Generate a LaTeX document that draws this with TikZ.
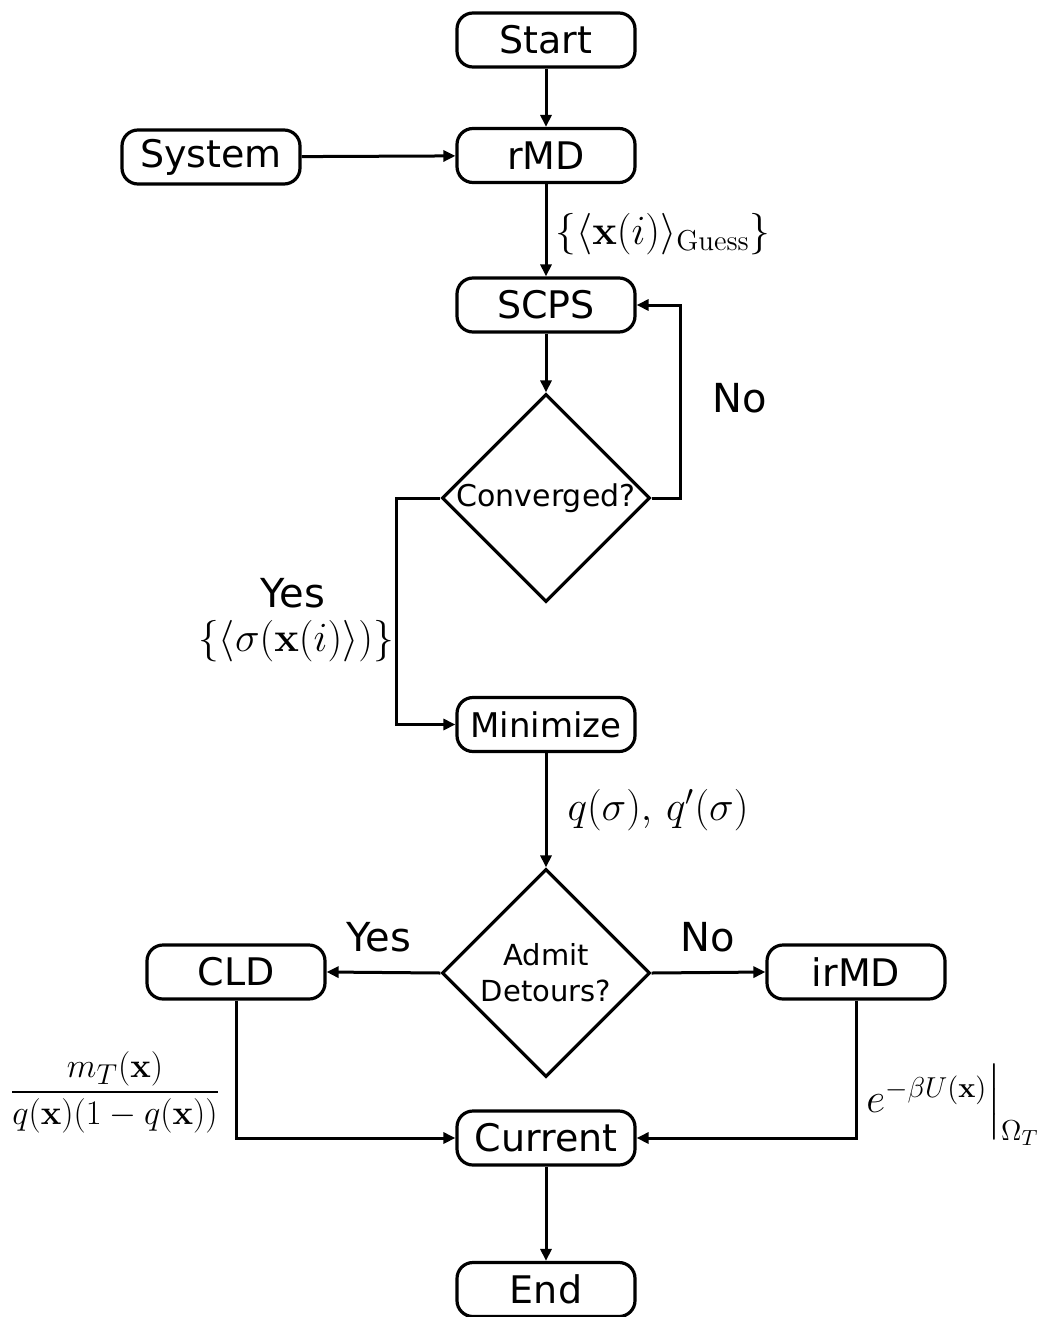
\documentclass[tikz,border=0pt]{standalone}
\usepackage{amsmath}
\usepackage[no-math]{fontspec}
\setmainfont{DejaVu Sans}
\usetikzlibrary{shapes.geometric,arrows.meta}
\begin{document}
\begin{tikzpicture}[x=0.5pt,y=-0.5pt,
  box/.style={draw,line width=1.6pt,rounded corners=8pt,minimum width=89pt,minimum height=27pt,inner sep=0pt,font=\fontsize{19}{23}\selectfont},
  dia/.style={draw,line width=1.6pt,diamond,aspect=1,minimum width=104pt,minimum height=104pt,inner sep=0pt,align=center},
  arr/.style={line width=1.5pt,-{Triangle[length=6pt,width=5.5pt]}},
  lbl/.style={font=\fontsize{20}{24}\selectfont},
  mlbl/.style={font=\fontsize{20}{24}\selectfont,inner sep=0pt}]
\useasboundingbox (0,0) rectangle (1059,1317);
\node[box] (start) at (546,40) {Start};
\node[box] (rmd) at (546,155.5) {rMD};
\node[box] (sys) at (211,157) {System};
\node[box] (scps) at (546,305) {SCPS};
\node[dia,font=\fontsize{15}{18}\selectfont] (conv) at (546,498) {Converged?};
\node[box,font=\fontsize{17}{20}\selectfont] (min) at (546,724.5) {Minimize};
\node[dia,font=\fontsize{14.5}{18}\selectfont] (admit) at (546,973) {Admit\\Detours?};
\node[box] (cld) at (236,972) {CLD};
\node[box] (irmd) at (856,972) {irMD};
\node[box] (cur) at (546,1138) {Current};
\node[box] (end) at (546,1289.5) {End};
\coordinate (nr) at (680,498);
\coordinate (yl) at (396,498);
\coordinate (cl) at (236,1138);
\coordinate (ir) at (856,1138);
\draw[arr] (start) -- (rmd);
\draw[arr] (sys) -- (rmd);
\draw[arr] (rmd) -- (scps);
\draw[arr] (scps) -- (conv);
\draw[arr] (conv.east) -- (nr) |- (scps.east);
\draw[arr] (conv.west) -- (yl) |- (min.west);
\draw[arr] (min) -- (admit);
\draw[arr] (admit.west) -- (cld.east);
\draw[arr] (admit.east) -- (irmd.west);
\draw[arr] (cld.south) -- (cl) -- (cur.west);
\draw[arr] (irmd.south) -- (ir) -- (cur.east);
\draw[arr] (cur) -- (end);
\node[mlbl,font=\fontsize{21}{25}\selectfont] (l1) at (663,234) {$\{\langle\mathbf{x}(i)\rangle_{\mathrm{Guess}}\}$};
\node[lbl] (no1) at (740,398) {No};
\node[lbl] (yes1) at (293,593) {Yes};
\node[mlbl,font=\fontsize{21}{25}\selectfont] (l2) at (296,641) {$\{\langle\sigma(\mathbf{x}(i)\rangle)\}$};
\node[mlbl,font=\fontsize{19.5}{23}\selectfont] (l3) at (658,810) {$q(\sigma),\,q'(\sigma)$};
\node[lbl] (yes2) at (379,937) {Yes};
\node[lbl] (no2) at (708,937) {No};
\node[mlbl,font=\fontsize{19}{23}\selectfont] (l4) at (115,1092) {$\dfrac{m_T(\mathbf{x})}{q(\mathbf{x})(1-q(\mathbf{x}))}$};
\node[mlbl,anchor=west,font=\fontsize{21}{25}\selectfont] (l5) at (866,1105) {$e^{-\beta U(\mathbf{x})}\Big|_{\Omega_T}$};
\end{tikzpicture}
\end{document}
